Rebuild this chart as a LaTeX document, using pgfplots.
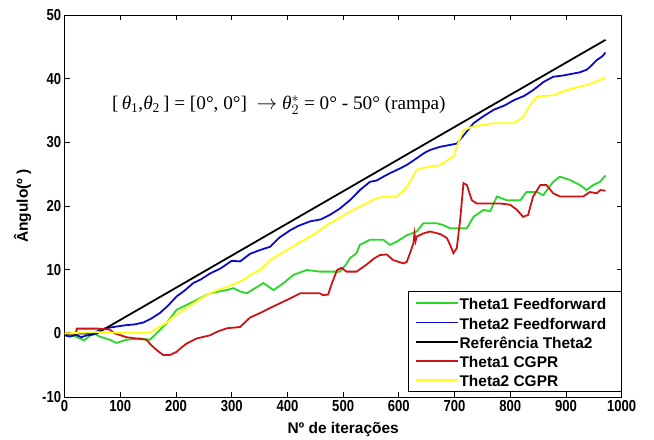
\documentclass[border=0pt]{standalone}
\usepackage{fontspec}
\setmainfont{Liberation Sans}
\newfontfamily\seriffont{Liberation Serif}
\newfontfamily\tickfont[FakeStretch=0.82]{Liberation Sans}
\usepackage{pgfplots}
\pgfplotsset{compat=1.18}
\usetikzlibrary{calc}
\definecolor{cgreen}{RGB}{40,215,40}
\definecolor{cblue}{RGB}{10,10,200}
\definecolor{cred}{RGB}{205,20,20}
\definecolor{cyellow}{RGB}{255,255,20}
\newcommand{\thet}[1]{{\itshape θ}\textsubscript{#1}}
\newcommand{\lstrut}{\rule{0pt}{14.7bp}}
\begin{document}
\begin{tikzpicture}
\begin{axis}[name=ax, scale only axis, width=557bp, height=382bp,
  xmin=0, xmax=1000, ymin=-10, ymax=50,
  xtick={0,100,...,1000}, ytick={-10,0,...,50},
  xticklabels={0,100,200,300,400,500,600,700,800,900,1000},
  yticklabels={-10,0,10,20,30,40,50},
  xtick pos=both, ytick pos=both, tick align=inside,
  major tick length=5bp,
  tick style={black, line width=0.8bp},
  axis line style={line width=0.8bp},
  ticklabel style={font=\tickfont\bfseries\fontsize{16}{18}\selectfont},
  xlabel={Nº de iterações},
  ylabel={Ângulo(º )},
  label style={font=\bfseries\fontsize{15.5}{18}\selectfont},
  xlabel style={at={(axis description cs:0.5,0)}, anchor=base, yshift=-36.5bp},
  ylabel style={at={(axis description cs:-0.0754,0.5)}, anchor=center},
  legend style={at={(1,0.013)}, anchor=south east, draw=black, line width=0.8bp,
    font=\bfseries\fontsize{15.5}{18}\selectfont, inner xsep=6bp, inner ysep=2.5bp,
    row sep=1bp, nodes={inner sep=1bp, text depth=0.15em}},
  legend cell align=left,
  legend image code/.code={\draw[#1, line width=1.8bp] (0bp,0bp) -- (42bp,0bp);},
]
\addplot[cgreen, line width=1.8bp] coordinates {(0,0)(10,-0.3)(20,-0.5)(28,-0.8)(35,-1.1)(45,-0.4)(52,0)(63,-0.5)(81,-1.0)(93,-1.5)(111,-1.0)(135,-0.8)(153,-1.0)(165,0)(183,1.6)(201,3.7)(215,4.3)(231,5.0)(261,6.3)(291,6.8)(303,7.1)(315,6.6)(327,6.3)(340,7.0)(357,7.9)(375,6.8)(393,7.9)(411,9.2)(435,9.95)(458,9.7)(494,9.7)(505,10.8)(512,11.8)(524,12.6)(530,13.9)(548,14.7)(572,14.7)(584,13.9)(596,14.4)(614,15.4)(632,16.0)(644,17.3)(668,17.3)(680,17.0)(692,16.5)(722,16.5)(734,18.3)(752,19.4)(764,19.2)(776,21.5)(794,20.9)(818,20.9)(829,22.2)(848,22.2)(859,21.7)(877,23.8)(889,24.6)(907,24.1)(925,23.3)(937,22.5)(949,23.3)(961,23.8)(971,24.8)};
\addlegendentry{\lstrut Theta1 Feedforward\hspace*{8bp}}
\addplot[cblue, line width=1.8bp] coordinates {(0,-0.3)(10,-0.5)(20,-0.2)(30,-0.6)(40,-0.3)(51,-0.2)(63,0.6)(80,0.9)(95,1.1)(111,1.3)(125,1.4)(141,1.7)(155,2.3)(171,3.2)(185,4.3)(201,5.8)(215,6.7)(231,7.9)(245,8.5)(261,9.4)(280,10.2)(300,11.4)(315,11.3)(333,12.5)(351,13.1)(369,13.6)(385,15.0)(405,16.2)(420,16.9)(441,17.6)(460,17.9)(476,18.6)(494,19.6)(512,20.9)(530,22.5)(548,23.8)(560,24.0)(572,24.6)(585,25.2)(602,25.9)(615,26.5)(632,27.5)(645,28.3)(656,28.8)(674,29.3)(692,29.6)(704,29.8)(720,31.5)(734,33.0)(750,34.0)(770,35.1)(790,35.8)(806,36.6)(825,37.3)(841,38.2)(860,39.5)(877,40.3)(895,40.5)(913,40.8)(925,41.0)(937,41.4)(945,42.0)(955,42.9)(965,43.5)(971,44.1)};
\addlegendentry{\lstrut Theta2 Feedforward}
\addplot[black, line width=1.8bp] coordinates {(0,0)(58,0)(971,46.1)};
\addlegendentry{\lstrut Referência Theta2}
\addplot[cred, line width=1.8bp] coordinates {(0,0)(20,0)(22,0.75)(60,0.75)(81,0.6)(90,0)(111,-0.6)(147,-1.0)(155,-1.8)(165,-2.6)(177,-3.4)(189,-3.4)(201,-2.9)(210,-2.2)(219,-1.6)(237,-0.8)(261,-0.3)(275,0.3)(291,0.8)(315,1.0)(333,2.5)(351,3.2)(369,4.0)(381,4.5)(405,5.5)(423,6.3)(441,6.3)(458,6.3)(464,6.0)(473,6.1)(480,7.9)(489,9.95)(497,10.3)(506,9.7)(524,9.7)(542,10.8)(556,11.8)(566,12.3)(578,12.4)(590,11.5)(608,11.0)(614,11.2)(620,12.6)(626,14.1)(628,15.7)(630,14.5)(632,15.2)(644,15.7)(656,16.0)(674,15.6)(686,15.0)(692,13.9)(698,12.6)(704,13.4)(710,17.8)(716,23.6)(722,23.3)(731,20.9)(740,20.4)(782,20.4)(800,20.2)(812,19.4)(823,18.3)(832,18.6)(841,21.5)(854,23.3)(865,23.3)(877,22.0)(889,21.5)(931,21.5)(943,22.2)(955,22.0)(962,22.5)(971,22.4)};
\addlegendentry{\lstrut Theta1 CGPR}
\addplot[cyellow, line width=1.8bp] coordinates {(0,0)(60,0.2)(100,0.1)(153,0.1)(160,0.5)(171,1.05)(185,1.8)(195,2.6)(210,3.5)(231,4.7)(245,5.5)(261,6.3)(275,6.8)(291,7.3)(305,7.8)(321,8.4)(335,9.3)(351,9.95)(369,11.5)(385,12.4)(405,13.4)(420,14.2)(441,15.2)(460,16.3)(476,17.3)(495,18.2)(512,19.1)(530,19.9)(548,20.7)(560,21.2)(572,21.5)(596,21.5)(610,22.5)(620,23.8)(632,25.7)(645,26.0)(656,26.2)(674,26.4)(692,27.5)(698,27.7)(707,30.0)(716,31.9)(734,32.5)(770,33.0)(806,33.0)(823,34.0)(835,35.8)(848,37.2)(877,37.4)(895,38.0)(913,38.5)(937,39.0)(955,39.6)(971,40.2)};
\addlegendentry{\lstrut Theta2 CGPR}
\node[anchor=base west, inner sep=0, font=\seriffont\fontsize{19.3}{22}\selectfont] at (axis cs:85,35.1)
  {[\,\thet{1},\thet{2}\,] = [0°, 0°] \ $\rightarrow$ {\itshape θ}$^{*}_{2}$ = 0° - 50° (rampa)};
\end{axis}
\pgfresetboundingbox
\path ($(ax.south west)+(-64.6bp,-42bp)$) rectangle ($(ax.north east)+(32.3bp,15bp)$);
\end{tikzpicture}
\end{document}
